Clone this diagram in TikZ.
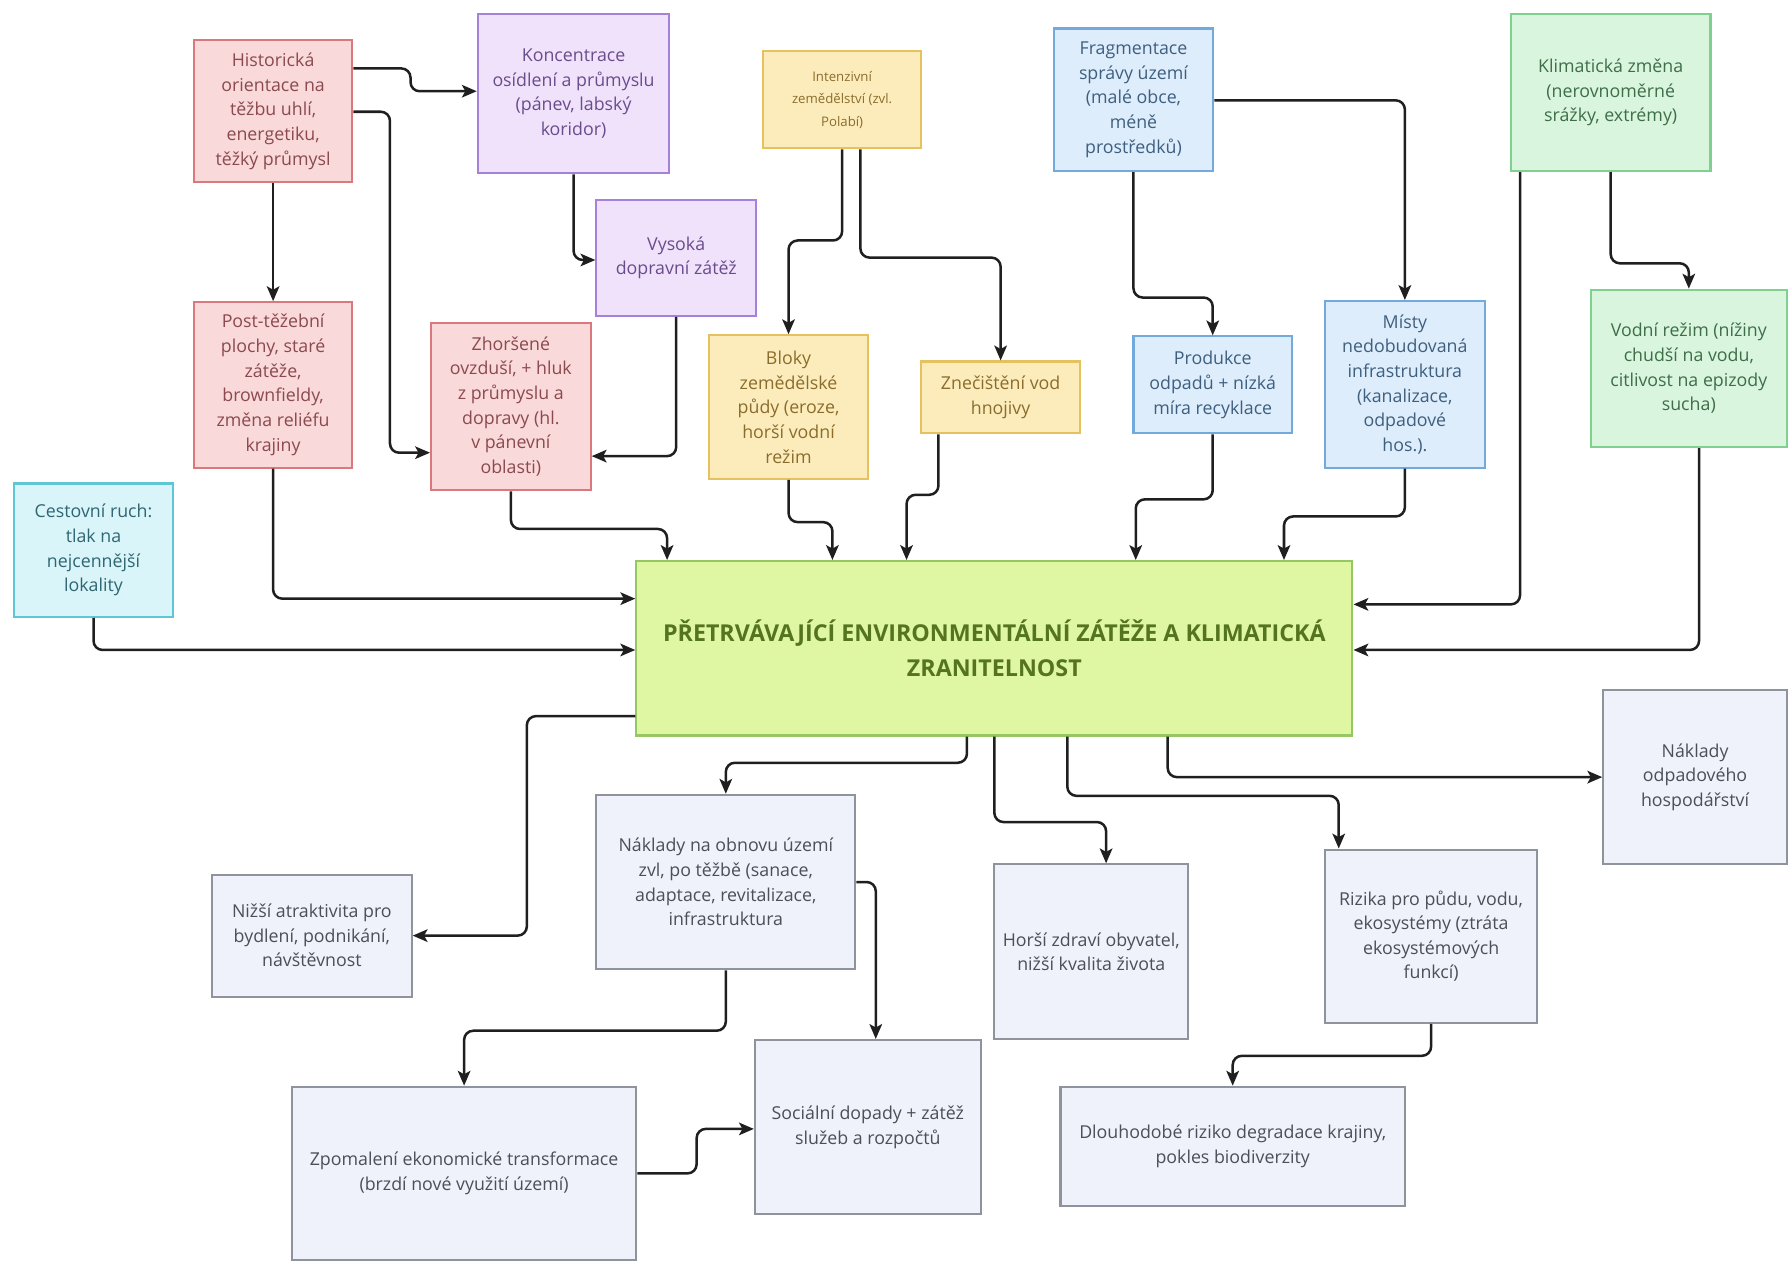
\documentclass[tikz,border=0pt]{standalone}
\usepackage{fontspec}
\setmainfont{Open Sans}
\usepackage{tikz}
\usetikzlibrary{arrows.meta}

\definecolor{redfill}{HTML}{FAD9DB}
\definecolor{redline}{HTML}{D9787D}
\definecolor{redtext}{HTML}{8A4A4E}
\definecolor{purfill}{HTML}{F1E2FC}
\definecolor{purline}{HTML}{A780DC}
\definecolor{purtext}{HTML}{6A4C8C}
\definecolor{yelfill}{HTML}{FCECBC}
\definecolor{yelline}{HTML}{E6C160}
\definecolor{yeltext}{HTML}{8A6D2C}
\definecolor{blufill}{HTML}{DDEDFB}
\definecolor{bluline}{HTML}{71AADB}
\definecolor{blutext}{HTML}{3F5F7F}
\definecolor{grnfill}{HTML}{D9F5DE}
\definecolor{grnline}{HTML}{80D190}
\definecolor{grntext}{HTML}{3E6E48}
\definecolor{cyafill}{HTML}{DAF5FA}
\definecolor{cyaline}{HTML}{5FC6D6}
\definecolor{cyatext}{HTML}{2E6672}
\definecolor{mainfill}{HTML}{DFF7A3}
\definecolor{mainline}{HTML}{95C862}
\definecolor{maintext}{HTML}{55741F}
\definecolor{grafill}{HTML}{EFF1FB}
\definecolor{graline}{HTML}{8E939D}
\definecolor{gratext}{HTML}{4B4F58}

\tikzset{
  box/.style={draw, line width=0.9pt, align=center, inner sep=2pt,
    font=\fontsize{7.8}{10.8}\selectfont},
  sz/.style 2 args={minimum width=#1*0.5pt, minimum height=#2*0.5pt},
  redbox/.style={box, fill=redfill, draw=redline, text=redtext},
  purbox/.style={box, fill=purfill, draw=purline, text=purtext},
  yelbox/.style={box, fill=yelfill, draw=yelline, text=yeltext},
  blubox/.style={box, fill=blufill, draw=bluline, text=blutext},
  grnbox/.style={box, fill=grnfill, draw=grnline, text=grntext},
  cyabox/.style={box, fill=cyafill, draw=cyaline, text=cyatext},
  grabox/.style={box, fill=grafill, draw=graline, text=gratext},
  link/.style={->, line width=1.1pt, draw=black!88, rounded corners=4pt}
}

\begin{document}
\begin{tikzpicture}[x=0.5pt, y=-0.5pt, >={Stealth[length=6.5pt,width=5.5pt,inset=1.5pt]}]
  \useasboundingbox (0,0) rectangle (1568,1107);

  % causes
  \node[redbox, sz={139}{125}] (hist)   at (239.5,97.5) {Historická\\orientace na\\těžbu uhlí,\\energetiku,\\těžký průmysl};
  \node[purbox, sz={168}{140}] (konc)   at (503,82)     {Koncentrace\\osídlení a průmyslu\\(pánev, labský\\koridor)};
  \node[yelbox, sz={139}{85}, font=\fontsize{5.8}{9.8}\selectfont] (intenz) at (738.5,87.5) {Intenzivní\\zemědělství (zvl.\\Polabí)};
  \node[blubox, sz={140}{125}] (frag)   at (994,87.5)   {Fragmentace\\správy území\\(malé obce,\\méně\\prostředků)};
  \node[grnbox, sz={175}{138}] (klima)  at (1412.5,81)  {Klimatická změna\\(nerovnoměrné\\srážky, extrémy)};
  \node[purbox, sz={140}{102}] (vys)    at (593,226)    {Vysoká\\dopravní zátěž};
  \node[redbox, sz={139}{145}] (post)   at (239.5,337.5) {Post-těžební\\plochy, staré\\zátěže,\\brownfieldy,\\změna reliéfu\\krajiny};
  \node[redbox, sz={140}{147}] (zhors)  at (448,356.5)  {Zhoršené\\ovzduší, + hluk\\z průmyslu a\\dopravy (hl.\\v pánevní\\oblasti)};
  \node[yelbox, sz={139}{126}] (bloky)  at (691.5,357)  {Bloky\\zemědělské\\půdy (eroze,\\horší vodní\\režim};
  \node[yelbox, sz={139}{63}]  (znec)   at (877.5,348.5) {Znečištění vod\\hnojivy};
  \node[blubox, sz={139}{85}]  (prod)   at (1063.5,337.5) {Produkce\\odpadů + nízká\\míra recyklace};
  \node[blubox, sz={140}{146}] (misty)  at (1232,337)   {Místy\\nedobudovaná\\infrastruktura\\(kanalizace,\\odpadové\\hos.).};
  \node[grnbox, sz={172}{138}] (vodni)  at (1481,323)   {Vodní režim (nížiny\\chudší na vodu,\\citlivost na epizody\\sucha)};
  \node[cyabox, sz={140}{117}] (cest)   at (82,482.5)   {Cestovní ruch:\\tlak na\\nejcennější\\lokality};

  % core
  \node[box, sz={628}{153}, fill=mainfill, draw=mainline, text=maintext,
        font=\fontsize{10.2}{15.5}\selectfont\bfseries] (main) at (872,568.5)
        {PŘETRVÁVAJÍCÍ ENVIRONMENTÁLNÍ ZÁTĚŽE A KLIMATICKÁ\\ZRANITELNOST};

  % consequences
  \node[grabox, sz={161}{153}] (nodp)   at (1486.5,681.5) {Náklady\\odpadového\\hospodářství};
  \node[grabox, sz={227}{153}] (nobn)   at (636.5,773.5) {Náklady na obnovu území\\zvl, po těžbě (sanace,\\adaptace, revitalizace,\\infrastruktura};
  \node[grabox, sz={175}{107}] (nizsi)  at (273.5,820.5) {Nižší atraktivita pro\\bydlení, podnikání,\\návštěvnost};
  \node[grabox, sz={170}{153}] (horsi)  at (957,834.5)   {Horší zdraví obyvatel,\\nižší kvalita života};
  \node[grabox, sz={186}{152}] (rizika) at (1255,821)    {Rizika pro půdu, vodu,\\ekosystémy (ztráta\\ekosystémových\\funkcí)};
  \node[grabox, sz={198}{153}] (social) at (761,988.5)   {Sociální dopady + zátěž\\služeb a rozpočtů};
  \node[grabox, sz={302}{152}] (zpom)   at (407,1029)    {Zpomalení ekonomické transformace\\(brzdí nové využití území)};
  \node[grabox, sz={302}{105}] (dlouh)  at (1081,1005.5) {Dlouhodobé riziko degradace krajiny,\\pokles biodiverzity};

  % upper links
  \draw[link] (hist.east |- 0,60) -- (360,60) |- (konc.west |- 0,80);
  \draw[link] (hist.east |- 0,98) -- (342,98) |- (zhors.west |- 0,397);
  \draw[link] (hist) -- (post);
  \draw[link] (konc.south) |- (vys.west |- 0,228);
  \draw[link] (vys.south) |- (zhors.east |- 0,400);
  \draw[link] (intenz.south) -- ++(0,80) -| (bloky.north);
  \draw[link] ([xshift=8pt]intenz.south) -- ++(0,95) -| (znec.north);
  \draw[link] (frag.south) -- ++(0,110) -| (prod.north);
  \draw[link] (frag.east |- 0,88) -| (misty.north);
  \draw[link] (klima.south) -- ++(0,80) -| (vodni.north);

  % into the core
  \draw[link] (klima.south -| 1333,0) |- (main.east |- 0,530);
  \draw[link] (vodni.south -| 1490,0) |- (main.east |- 0,570);
  \draw[link] (post.south) |- (main.west |- 0,525);
  \draw[link] (cest.south) |- (main.west |- 0,570);
  \draw[link] (zhors.south) -- ++(0,33) -| (main.north -| 585,0);
  \draw[link] (bloky.south) -- ++(0,37) -| (main.north -| 730,0);
  \draw[link] (znec.south -| 823,0) -- ++(0,53) -| (main.north -| 795,0);
  \draw[link] (prod.south) -- ++(0,57) -| (main.north -| 996,0);
  \draw[link] (misty.south) -- ++(0,42) -| (main.north -| 1126,0);

  % out of the core
  \draw[link] (main.west |- 0,628) -- (462,628) |- (nizsi.east);
  \draw[link] (main.south -| 848,0) -- ++(0,23) -| (nobn.north);
  \draw[link] (main.south) -- ++(0,75) -| (horsi.north -| 970,0);
  \draw[link] (main.south -| 936,0) -- ++(0,52) -| (rizika.north -| 1174,0);
  \draw[link] (main.south -| 1024,0) |- (nodp.west);
  \draw[link] (nobn.south) -- ++(0,53) -| (zpom.north);
  \draw[link] (nobn.east) -| (social.north -| 768,0);
  \draw[link] (zpom.east) -- ++(52,0) |- (social.west |- 0,990);
  \draw[link] (rizika.south) -- ++(0,28) -| (dlouh.north);
\end{tikzpicture}
\end{document}
